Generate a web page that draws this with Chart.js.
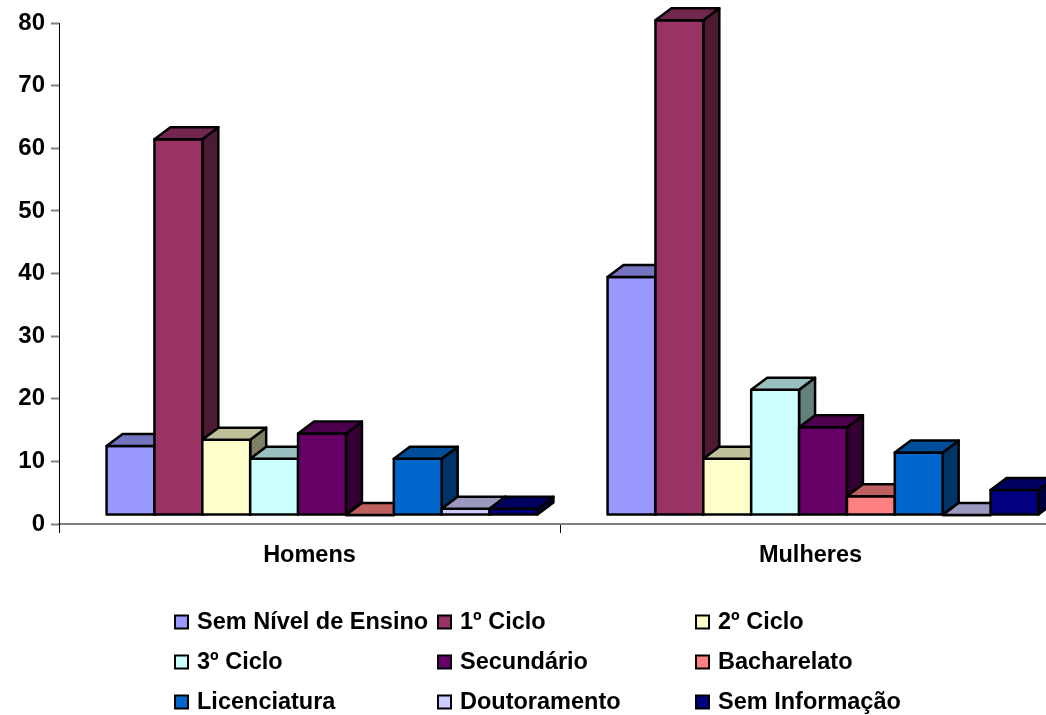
<!DOCTYPE html>
<html>
<head>
<meta charset="utf-8">
<title>Nível de ensino</title>
<script src="https://cdn.jsdelivr.net/npm/chart.js@4"></script>
<style>
  html, body { margin: 0; padding: 0; background: #fff; overflow: hidden; }
  #wrap { width: 1046px; height: 715px; overflow: hidden; }
</style>
</head>
<body>
<div id="wrap"><canvas id="chart" width="1070" height="715"></canvas></div>
<script>
const categories = ['Homens', 'Mulheres'];
const semNivel = [11, 38];
const ciclo1 = [60, 79];
const ciclo2 = [12, 9];
const ciclo3 = [9, 20];
const secundario = [13, 14];
const bacharelato = [0, 3];
const licenciatura = [9, 10];
const doutoramento = [1, 0];
const semInformacao = [1, 4];

const labels = ['Sem Nível de Ensino', '1º Ciclo', '2º Ciclo', '3º Ciclo', 'Secundário', 'Bacharelato', 'Licenciatura', 'Doutoramento', 'Sem Informação'];
const series = [semNivel, ciclo1, ciclo2, ciclo3, secundario, bacharelato, licenciatura, doutoramento, semInformacao];
const colors = ['#9999FF', '#993366', '#FFFFCC', '#CCFFFF', '#660066', '#FF8080', '#0066CC', '#CCCCFF', '#000080'];

const FAMILY = '"Liberation Sans", Arial, sans-serif';

// darker version of a colour for the top and side faces
function shade(hex, f) {
    const n = parseInt(hex.slice(1), 16);
    const r = Math.round((n >> 16 & 255) * f);
    const g = Math.round((n >> 8 & 255) * f);
    const b = Math.round((n & 255) * f);
    return 'rgb(' + r + ',' + g + ',' + b + ')';
}

function face(ctx, pts, fill) {
    ctx.beginPath();
    ctx.moveTo(pts[0][0], pts[0][1]);
    for (let i = 1; i < pts.length; i++) ctx.lineTo(pts[i][0], pts[i][1]);
    ctx.closePath();
    if (fill) {
        ctx.fillStyle = fill;
        ctx.fill();
    }
    ctx.lineWidth = 2.5;
    ctx.strokeStyle = '#000';
    ctx.lineJoin = 'round';
    ctx.stroke();
}

// bars are drawn left to right so the next front covers the previous side
const bars3d = {
    id: 'bars3d',
    beforeDatasetsDraw(chart) {
        const ctx = chart.ctx;
        const dx = 16, dy = 12;       // depth of the boxes
        const shiftX = 12.5, shiftY = -9;   // the floor sits behind the axis
        categories.forEach((c, j) => {
            series.forEach((s, i) => {
                const el = chart.getDatasetMeta(i).data[j];
                const left = el.x - el.width / 2, right = el.x + el.width / 2;
                ctx.save();
                ctx.translate(shiftX, shiftY);
                face(ctx, [[right, el.base], [right + dx, el.base - dy], [right + dx, el.y - dy], [right, el.y]], shade(colors[i], 0.5));
                el.draw(ctx, chart.chartArea);
                face(ctx, [[left, el.base], [right, el.base], [right, el.y], [left, el.y]], null);
                face(ctx, [[left, el.y], [left + dx, el.y - dy], [right + dx, el.y - dy], [right, el.y]], shade(colors[i], 0.75));
                ctx.restore();
            });
        });
        return false;
    }
};

const legendX = [175, 438, 696];
const legendY = [622, 662, 702];

const legend3col = {
    id: 'legend3col',
    afterDraw(chart) {
        const ctx = chart.ctx;
        ctx.save();
        ctx.font = 'bold 23.5px ' + FAMILY;
        ctx.textBaseline = 'middle';
        labels.forEach((t, i) => {
            const x = legendX[i % 3], y = legendY[Math.floor(i / 3)];
            ctx.fillStyle = colors[i];
            ctx.strokeStyle = '#000';
            ctx.lineWidth = 2;
            ctx.fillRect(x, y - 6.5, 13, 13);
            ctx.strokeRect(x, y - 6.5, 13, 13);
            ctx.fillStyle = '#000';
            ctx.fillText(t, x + 22, y + 1);
        });
        ctx.restore();
    }
};

new Chart(document.getElementById('chart').getContext('2d'), {
    type: 'bar',
    data: {
        labels: categories,
        datasets: labels.map((t, i) => ({
            label: t,
            data: series[i],
            backgroundColor: colors[i],
            borderWidth: 0,
            categoryPercentage: 0.86,
            barPercentage: 1
        }))
    },
    options: {
        responsive: false,
        animation: false,
        layout: { padding: { top: 23, right: 9, left: 0, bottom: 0 } },
        plugins: { legend: { display: false }, tooltip: { enabled: false } },
        scales: {
            x: {
                afterFit(axis) { axis.height = 191; },
                border: { color: '#808080', width: 2 },
                grid: { drawOnChartArea: false, tickColor: '#000', tickLength: 9, tickWidth: 1 },
                ticks: { color: '#000', font: { family: FAMILY, size: 23.5, weight: 'bold' }, padding: 8, maxRotation: 0 }
            },
            y: {
                min: 0,
                max: 80,
                afterFit(axis) { axis.width = 59; },
                border: { color: '#000', width: 1 },
                grid: { drawOnChartArea: false, tickColor: '#808080', tickLength: 8, tickWidth: 2 },
                ticks: { stepSize: 10, color: '#000', font: { family: FAMILY, size: 24, weight: 'bold' }, padding: 6 }
            }
        }
    },
    plugins: [bars3d, legend3col]
});
</script>
</body>
</html>
